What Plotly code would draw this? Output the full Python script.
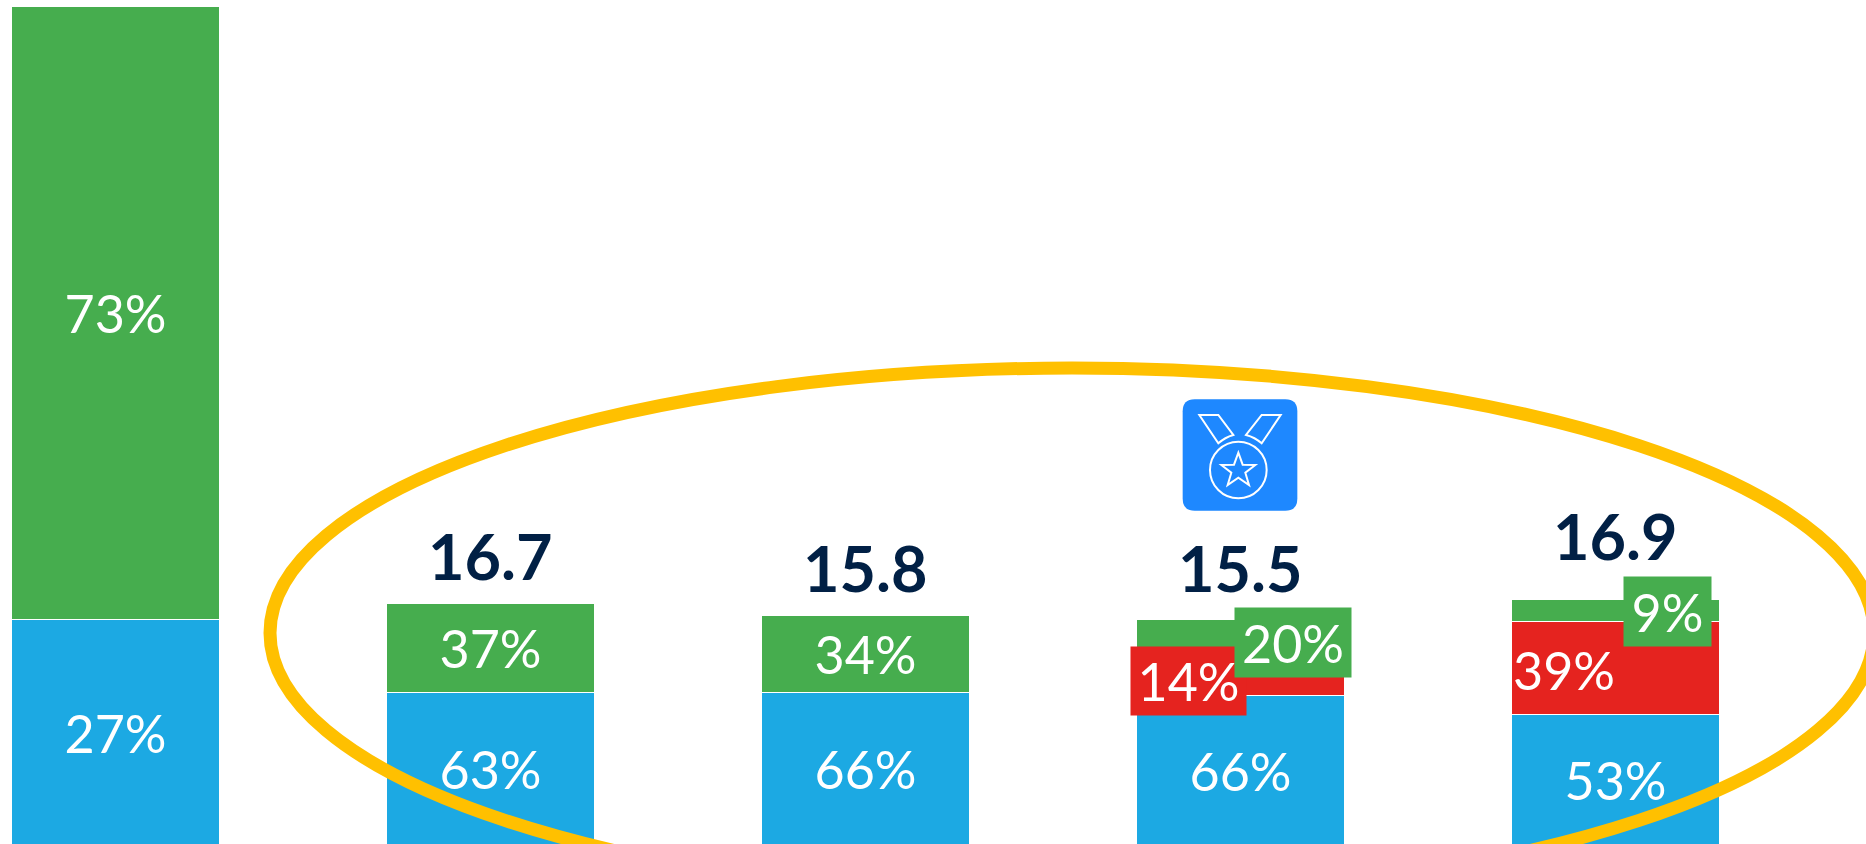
import plotly.graph_objects as go

positions = [0, 1, 2, 3, 4]
blue_values = [15.6, 10.6, 10.6, 10.4, 9.1]
red_values = [0, 0, 0, 2.1, 6.4]
green_values = [42.3, 6.1, 5.3, 3.1, 1.5]
blue_labels = ["27%", "63%", "66%", "66%", "53%"]
green_labels = ["73%", "37%", "34%", "", ""]
total_labels = ["", "16.7", "15.8", "15.5", "16.9"]
total_y_px = [None, 555, 567, 567, 535]

BLUE = "#1CA9E3"
GREEN = "#46AD4E"
RED = "#E5231F"
GOLD = "#FFC000"
NAVY = "#012045"
ICON = "#1E88FF"
W, H = 1866, 844
FONT = "Lato"
SIZE = 52


def px(x):
    return x / W


def py(y):
    return 1 - y / H


def bar(vals, color, labels):
    return go.Bar(
        x=positions, y=vals, width=0.554, marker=dict(color=color, line=dict(color="white", width=1)),
        text=labels, textposition="inside", insidetextanchor="middle", textangle=0,
        textfont=dict(family=FONT, size=SIZE, color="white"), hoverinfo="skip", showlegend=False,
    )


fig = go.Figure([
    bar(blue_values, BLUE, blue_labels),
    bar(red_values, RED, [""] * 5),
    bar(green_values, GREEN, green_labels),
])

annotations = []
for x, lab, yp in zip(positions, total_labels, total_y_px):
    if lab:
        annotations.append(dict(
            x=x, xref="x", y=py(yp), yref="paper", text=lab, showarrow=False,
            xanchor="center", yanchor="middle",
            font=dict(family=FONT, size=63, color=NAVY, weight="bold"),
        ))

# offset labels: text, box left, top, right, bottom, fill
boxes = [
    ("14%", 1131, 647, 1246, 715, RED),
    ("20%", 1235, 608, 1351, 677, GREEN),
    ("9%", 1624, 577, 1711, 646, GREEN),
    ("39%", 1513, 636, 1615, 704, None),
]
for t, l, tp, r, b, c in boxes:
    a = dict(
        x=px((l + r) / 2), xref="paper", y=py((tp + b) / 2), yref="paper", text=t, showarrow=False,
        xanchor="center", yanchor="middle", width=r - l, height=b - tp, align="center", valign="middle",
        borderpad=0, font=dict(family=FONT, size=SIZE, color="white"),
    )
    if c:
        a["bgcolor"] = c
    annotations.append(a)


def P(x, y):
    return f"{px(1160 + x / 3):.5f},{py(390 + y / 3):.5f}"


def path_poly(pts):
    return "M " + " L ".join(P(*p) for p in pts) + " Z"


rr_l, rr_r, rr_t, rr_b, rad = 68, 412, 28, 362, 36
rounded = (
    f"M {P(rr_l + rad, rr_t)} L {P(rr_r - rad, rr_t)} Q {P(rr_r, rr_t)} {P(rr_r, rr_t + rad)} "
    f"L {P(rr_r, rr_b - rad)} Q {P(rr_r, rr_b)} {P(rr_r - rad, rr_b)} "
    f"L {P(rr_l + rad, rr_b)} Q {P(rr_l, rr_b)} {P(rr_l, rr_b - rad)} "
    f"L {P(rr_l, rr_t + rad)} Q {P(rr_l, rr_t)} {P(rr_l + rad, rr_t)} Z"
)
rib_l = f"M {P(118, 75)} L {P(175, 75)} L {P(220, 135)} Q {P(195, 142)} {P(175, 160)} Z"
rib_r = f"M {P(362, 75)} L {P(305, 75)} L {P(258, 135)} Q {P(285, 142)} {P(305, 160)} Z"
star_pts = [(235, 188), (248, 224), (286, 225), (256, 248), (267, 285), (235, 263),
            (203, 285), (214, 248), (184, 225), (222, 224)]
icon_line = dict(color="white", width=2)

shapes = [
    dict(type="circle", xref="paper", yref="paper", x0=px(1072 - 802), x1=px(1072 + 802),
         y0=py(633 + 265), y1=py(633 - 265), line=dict(color=GOLD, width=13), layer="above"),
    dict(type="path", xref="paper", yref="paper", path=rounded, fillcolor=ICON, line=dict(width=0), layer="above"),
    dict(type="path", xref="paper", yref="paper", path=rib_l, line=icon_line, layer="above"),
    dict(type="path", xref="paper", yref="paper", path=rib_r, line=icon_line, layer="above"),
    dict(type="circle", xref="paper", yref="paper", x0=px(1160 + 150 / 3), x1=px(1160 + 320 / 3),
         y0=py(390 + 325 / 3), y1=py(390 + 155 / 3), line=icon_line, layer="above"),
    dict(type="path", xref="paper", yref="paper", path=path_poly(star_pts), line=icon_line, layer="above"),
]

fig.update_layout(
    barmode="stack", width=W, height=H, margin=dict(l=0, r=0, t=0, b=0),
    paper_bgcolor="white", plot_bgcolor="white", annotations=annotations, shapes=shapes,
    xaxis=dict(range=[-0.308, 4.668], visible=False, fixedrange=True),
    yaxis=dict(range=[0.14, 58.34], visible=False, fixedrange=True),
    font=dict(family=FONT),
)
fig.write_html(
    "out.html",
    config={"displayModeBar": False},
    post_script="document.body.style.margin='0';document.body.style.overflow='hidden';window.dispatchEvent(new Event('resize'));",
)
